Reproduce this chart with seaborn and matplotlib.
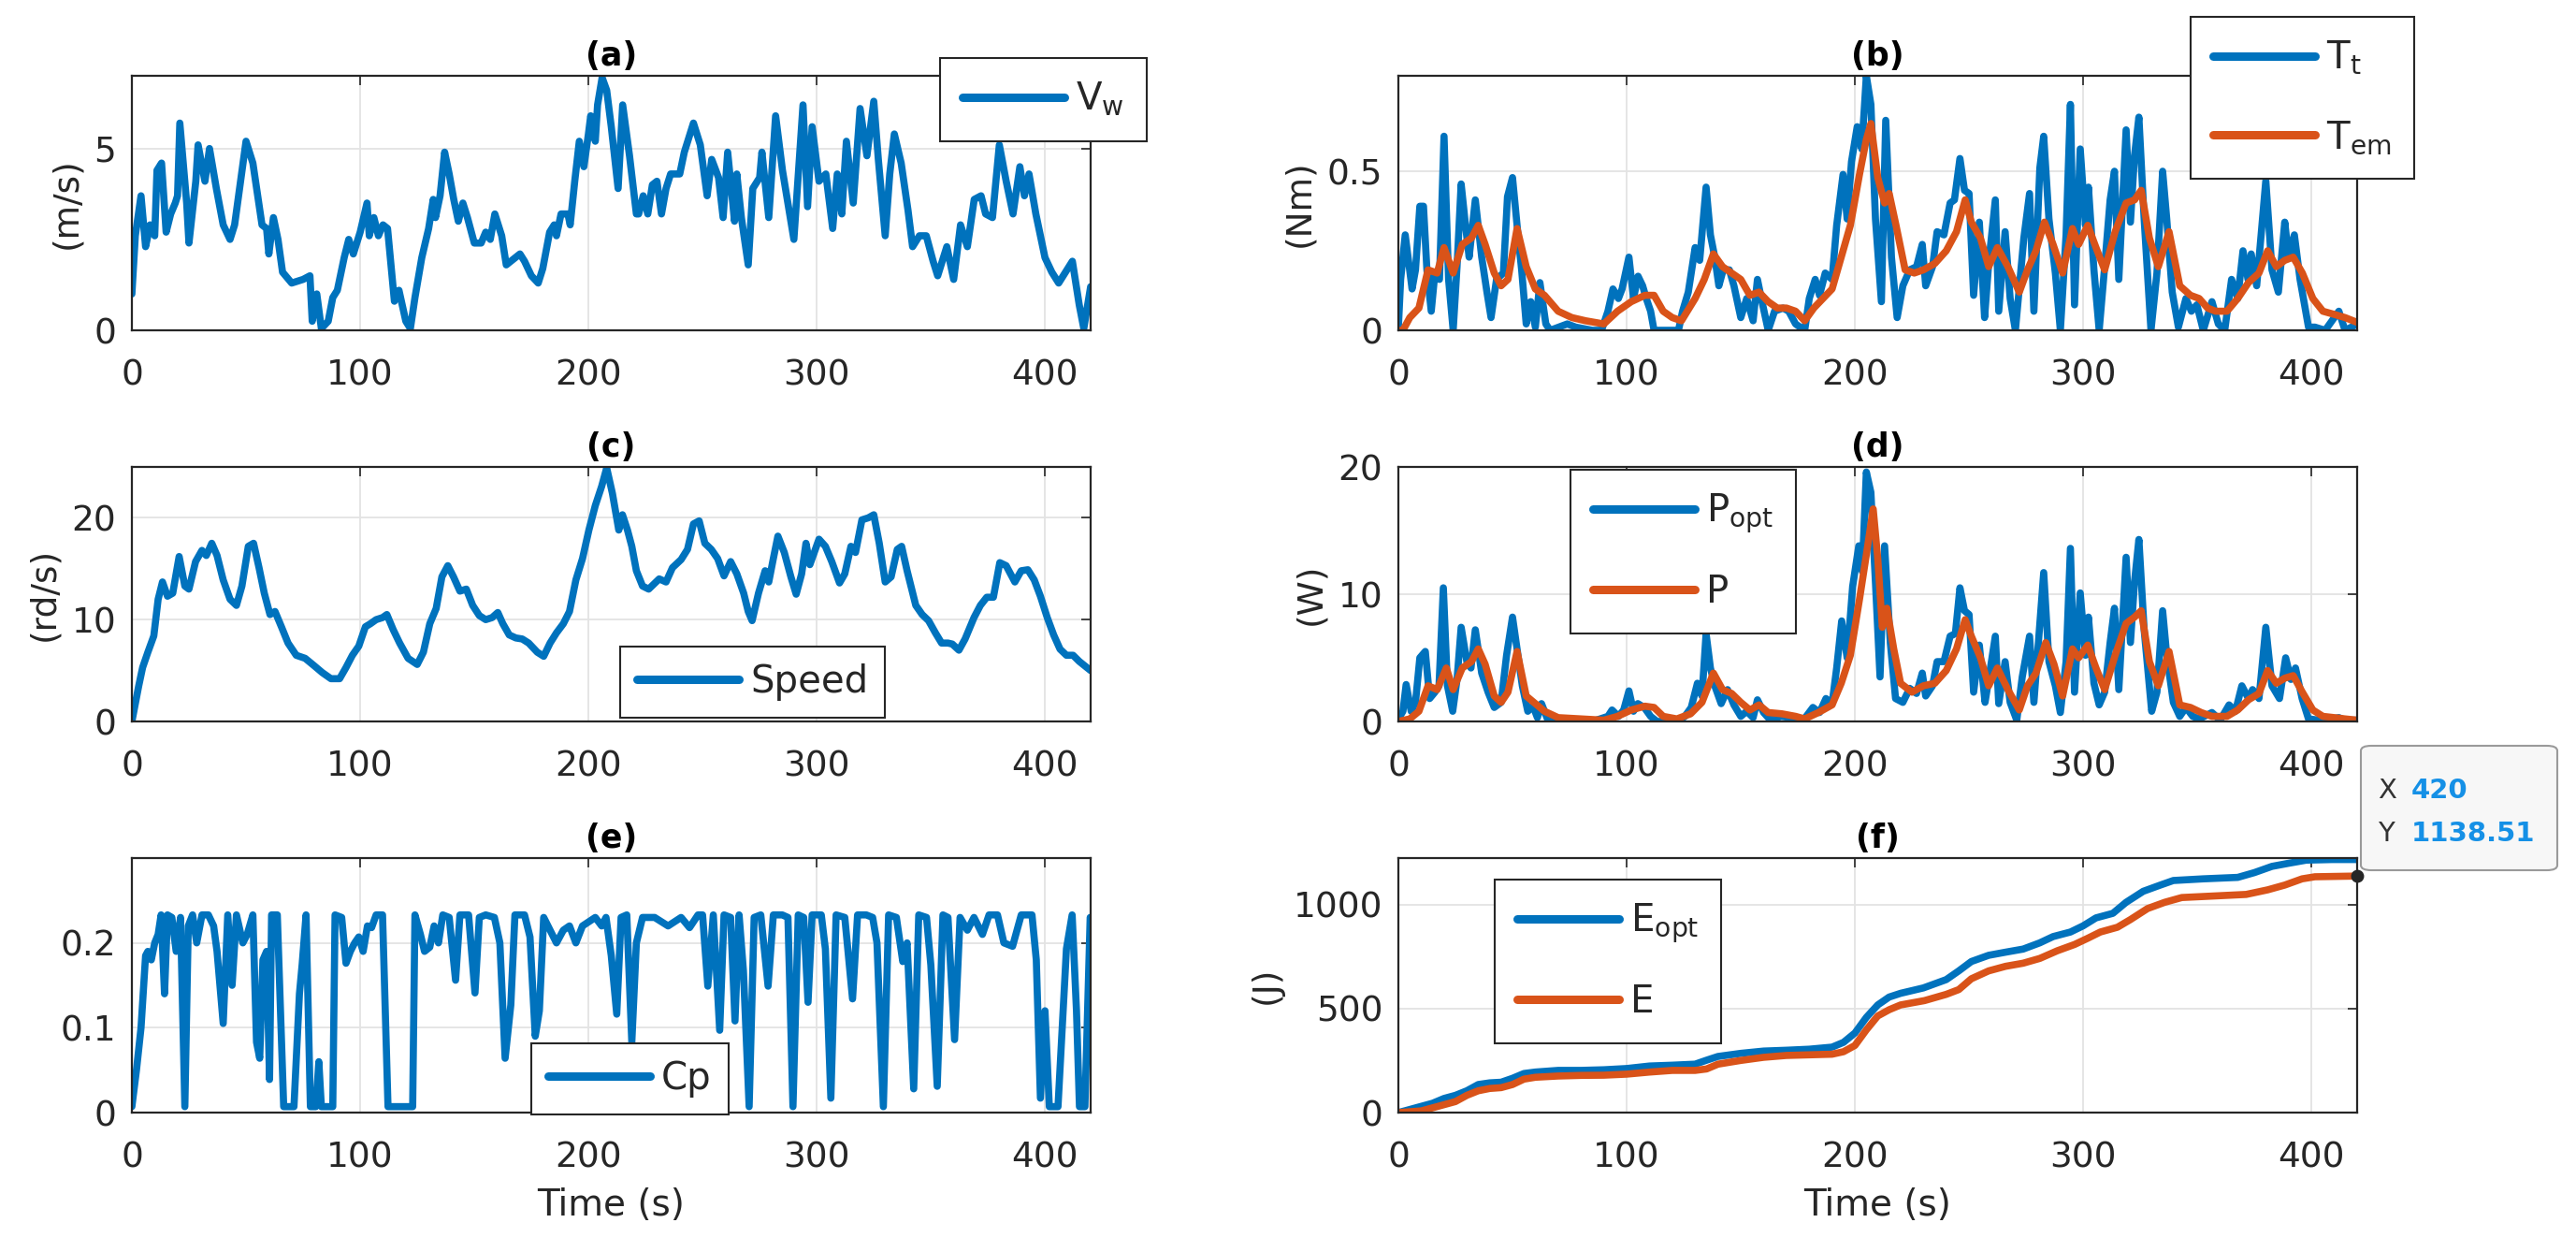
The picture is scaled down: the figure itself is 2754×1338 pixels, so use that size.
import matplotlib
matplotlib.use("Agg")
import matplotlib.pyplot as plt
from matplotlib.patches import FancyBboxPatch
from matplotlib.ticker import FuncFormatter
import seaborn as sns

# ---------------- data ----------------
t_vw = [0, 1.5, 4, 6, 8, 10, 11, 13, 15, 17, 19, 20, 21, 24, 25, 28, 29, 32, 34, 37, 40, 43, 45, 50, 53, 57, 59, 60,
        62, 64, 66, 70, 75, 78, 79, 81, 83, 86, 88, 90, 93, 95, 97, 100, 103, 104, 106, 108, 110, 112, 115, 117, 120,
        122, 124, 127, 130, 132, 133, 135, 137, 139, 141, 143, 145, 147, 150, 153, 155, 157, 159, 162, 164, 166, 168,
        170, 172, 175, 178, 180, 183, 185, 186, 188, 191, 192, 194, 196, 198, 200, 201, 203, 204, 206, 208, 210, 213,
        215, 218, 221, 222, 224, 226, 228, 230, 232, 234, 236, 240, 242, 246, 249, 252, 254, 257, 259, 261, 264, 265,
        267, 270, 272, 275, 276, 279, 282, 285, 290, 294, 296, 298, 301, 304, 307, 309, 311, 313, 316, 319, 322, 325,
        327, 330, 332, 334, 337, 340, 342, 345, 348, 351, 353, 357, 360, 363, 366, 369, 372, 374, 377, 380, 383, 386,
        389, 391, 393, 396, 400, 403, 406, 408, 412, 415, 417, 420]
vw = [1.0, 2.6, 3.7, 2.3, 2.9, 2.6, 4.4, 4.6, 2.7, 3.2, 3.5, 3.7, 5.7, 3.5, 2.4, 4.1, 5.1, 4.1, 5.0, 3.9, 2.9, 2.5, 2.9,
      5.2, 4.6, 2.9, 2.8, 2.1, 3.1, 2.5, 1.6, 1.3, 1.4, 1.5, 0.25, 1.0, 0.05, 0.25, 0.9, 1.1, 2.0, 2.5, 2.1, 2.7, 3.5,
      2.6, 3.1, 2.6, 2.9, 2.8, 0.8, 1.1, 0.25, 0.05, 0.9, 2.0, 2.8, 3.6, 3.1, 3.7, 4.9, 4.3, 3.6, 3.0, 3.5, 3.1, 2.4,
      2.4, 2.7, 2.5, 3.2, 2.6, 1.8, 1.9, 2.0, 2.1, 1.9, 1.5, 1.3, 1.7, 2.7, 2.9, 2.6, 3.2, 3.2, 2.9, 4.1, 5.2, 4.5,
      5.4, 5.9, 5.2, 6.2, 6.95, 6.6, 5.6, 3.9, 6.2, 4.8, 3.2, 3.2, 3.7, 3.2, 4.0, 4.1, 3.2, 3.9, 4.3, 4.3, 4.9, 5.7,
      5.1, 3.7, 4.7, 4.2, 3.1, 4.9, 3.0, 4.3, 3.1, 1.8, 3.9, 4.2, 4.9, 3.1, 5.9, 4.4, 2.5, 6.2, 3.4, 5.6, 4.1, 4.3,
      2.8, 4.3, 3.2, 5.2, 3.5, 6.1, 4.8, 6.3, 4.7, 2.6, 4.3, 5.4, 4.6, 3.3, 2.3, 2.6, 2.6, 1.9, 1.5, 2.3, 1.4, 2.9,
      2.3, 3.6, 3.7, 3.2, 3.1, 5.1, 4.1, 3.2, 4.5, 3.7, 4.3, 3.2, 2.0, 1.6, 1.3, 1.5, 1.9, 0.7, 0.05, 1.2]

t_tt = [0, 1, 3, 6, 7.5, 9.4, 11, 12.5, 14.4, 16, 18, 20, 22, 24, 25.7, 27.5, 29.4, 31, 33.7, 36.5, 38.8, 40.6, 43,
        46, 47.8, 50, 52.4, 54, 56, 58, 60, 62, 64.6, 66.5, 74, 77.7, 85, 89, 91.8, 94, 96.4, 98, 101, 103, 105, 107,
        108.6, 110.5, 112, 122.7, 124.5, 127, 130, 132, 134.8, 136.7, 138.6, 140.4, 142.3, 145, 147, 150, 152.6,
        155.4, 157.3, 159, 162, 164.8, 168.5, 171, 174, 178, 180, 182.6, 184.5, 187, 190, 192, 194.8, 196.6, 198.5,
        201, 203, 205, 207, 209, 211.6, 213.5, 216, 218.5, 221, 224, 227, 229.5, 231, 234, 236, 239, 241.7, 243.6,
        246, 248, 250, 252, 254.5, 256.8, 258.6, 261.5, 263, 265.8, 268, 270.3, 272.7, 274, 276.5, 278.4, 281, 282.7,
        285, 287.8, 290, 292.5, 294.4, 296.2, 298.7, 301, 302.3, 304.7, 307, 309.4, 311.8, 313.7, 315.6, 318.8,
        320.7, 322.5, 324.4, 326.7, 329.7, 332.3, 334.8, 336.6, 339, 341.7, 345, 347.4, 349.8, 352.6, 356.4, 359.2,
        362, 365, 367.7, 370, 372.2, 373.6, 376, 380, 382.7, 385.5, 388.3, 390, 392.5, 395, 398.7, 401.5, 406, 409,
        412, 414.7, 417.5, 420]
tt = [0.01, 0.16, 0.30, 0.13, 0.19, 0.39, 0.39, 0.19, 0.06, 0.18, 0.16, 0.61, 0.16, 0.0, 0.20, 0.46, 0.33, 0.23, 0.41,
      0.23, 0.12, 0.04, 0.16, 0.18, 0.42, 0.48, 0.30, 0.19, 0.02, 0.09, 0.01, 0.15, 0.02, 0.0, 0.02, 0.01, 0.0, 0.0,
      0.06, 0.13, 0.10, 0.13, 0.23, 0.10, 0.17, 0.14, 0.10, 0.06, 0.0, 0.0, 0.06, 0.12, 0.26, 0.22, 0.45, 0.30, 0.23,
      0.14, 0.19, 0.19, 0.14, 0.04, 0.10, 0.03, 0.16, 0.10, 0.0, 0.06, 0.07, 0.06, 0.02, 0.0, 0.10, 0.16, 0.11, 0.18,
      0.16, 0.33, 0.49, 0.35, 0.53, 0.64, 0.57, 0.80, 0.71, 0.35, 0.09, 0.66, 0.23, 0.04, 0.14, 0.19, 0.20, 0.27,
      0.14, 0.20, 0.31, 0.30, 0.40, 0.41, 0.54, 0.44, 0.43, 0.11, 0.34, 0.04, 0.21, 0.41, 0.06, 0.31, 0.10, 0.0,
      0.19, 0.29, 0.43, 0.06, 0.51, 0.61, 0.35, 0.18, 0.0, 0.30, 0.71, 0.08, 0.57, 0.33, 0.45, 0.19, 0.0, 0.20, 0.41,
      0.50, 0.16, 0.63, 0.34, 0.55, 0.67, 0.35, 0.0, 0.18, 0.50, 0.35, 0.12, 0.01, 0.10, 0.06, 0.08, 0.0, 0.09, 0.02,
      0.0, 0.16, 0.10, 0.25, 0.16, 0.24, 0.14, 0.47, 0.19, 0.12, 0.34, 0.23, 0.30, 0.16, 0.01, 0.01, 0.0, 0.03, 0.06,
      0.0, 0.01, 0.02]

t_tem = [0, 2, 5, 9, 13, 17, 20, 24, 28, 32, 35, 38, 42, 45, 48, 52, 56, 60, 64, 70, 76, 82, 90, 96, 102, 108, 112,
         116, 120, 124, 130, 134, 138, 142, 146, 150, 154, 158, 162, 166, 170, 174, 178, 182, 186, 190, 194, 198, 202,
         205, 207, 210, 213, 215, 218, 222, 226, 230, 235, 240, 244.5, 248.3, 251, 255, 258.6, 262.4, 267, 272, 275.6,
         279.3, 283, 286.8, 291, 295.3, 298, 302, 305.6, 309.4, 314, 318.8, 322.5, 325.4, 329, 332.9, 337.6, 342.3,
         347, 350.8, 354.5, 358, 363, 367.7, 372.4, 377, 380.8, 384.6, 388.3, 392, 396, 400.6, 405, 410, 414.7, 420]
tem = [0, 0, 0.04, 0.07, 0.19, 0.18, 0.26, 0.18, 0.27, 0.29, 0.33, 0.27, 0.18, 0.14, 0.16, 0.32, 0.20, 0.13, 0.11,
       0.06, 0.04, 0.03, 0.02, 0.06, 0.09, 0.11, 0.11, 0.06, 0.04, 0.03, 0.10, 0.16, 0.24, 0.20, 0.18, 0.16, 0.11,
       0.12, 0.09, 0.07, 0.07, 0.06, 0.03, 0.07, 0.10, 0.13, 0.23, 0.33, 0.49, 0.60, 0.65, 0.48, 0.40, 0.43, 0.33,
       0.19, 0.18, 0.19, 0.21, 0.25, 0.31, 0.41, 0.34, 0.29, 0.20, 0.26, 0.20, 0.12, 0.19, 0.25, 0.34, 0.27, 0.18,
       0.32, 0.27, 0.33, 0.26, 0.19, 0.31, 0.40, 0.41, 0.44, 0.29, 0.20, 0.31, 0.14, 0.11, 0.10, 0.07, 0.06, 0.06,
       0.10, 0.15, 0.18, 0.25, 0.20, 0.22, 0.23, 0.18, 0.10, 0.06, 0.05, 0.04, 0.025]

t_speed = [0, 3, 4.7, 7, 9.6, 11.5, 13.4, 15.6, 17.9, 20.7, 23.2, 25, 27.9, 30.7, 32.6, 35, 37.3, 40, 43, 45.8, 48.2,
           51, 53.3, 55.7, 58, 60.5, 62.7, 65.5, 68.4, 72, 75.9, 79.7, 83.4, 87.2, 91, 93.8, 96.6, 99.4, 102.3, 104.5,
           107, 109.8, 111.7, 114.5, 117.3, 121, 125, 127.7, 130.5, 133.3, 135.8, 138.4, 140.9, 143.7, 146.5, 149.3,
           152.2, 155, 157.8, 160.3, 162.5, 165.3, 168.2, 171, 173.8, 177.6, 180.4, 183.2, 186, 189, 191.7, 194.5,
           197.4, 200.2, 203, 205.8, 208, 210.5, 213.3, 214.9, 217.1, 219, 221, 223.7, 226.4, 231, 234, 236.8, 240.6,
           243.4, 246, 248.5, 251, 253.8, 256.6, 259.4, 262.3, 265, 268, 270, 271.7, 274.5, 277.4, 279, 281, 283,
           285.8, 288.7, 291, 293.4, 295.3, 297, 301, 303.8, 306.6, 310, 312.3, 315, 317, 319.8, 322.6, 325, 327.4,
           330, 332.6, 335.3, 337.2, 339.6, 343.4, 346.2, 349, 352, 354.7, 357.5, 359.4, 362.3, 365, 368.9, 371.7,
           374.5, 377.4, 380.2, 383, 386.8, 389.6, 392.5, 395.3, 398, 401, 403.8, 406.6, 409.4, 412.3, 415, 420]
speed = [0, 3.5, 5.3, 6.8, 8.4, 12.0, 13.7, 12.3, 12.6, 16.2, 13.3, 13.0, 15.7, 16.8, 16.3, 17.5, 16.3, 13.9, 12.0,
         11.4, 13.3, 17.2, 17.5, 15.1, 12.6, 10.5, 10.8, 9.3, 7.7, 6.5, 6.2, 5.5, 4.8, 4.2, 4.2, 5.3, 6.5, 7.4, 9.3,
         9.6, 10.0, 10.2, 10.5, 9.0, 7.7, 6.2, 5.6, 6.8, 9.6, 11.1, 14.2, 15.3, 14.2, 12.8, 13.0, 11.4, 10.4, 10.0,
         10.2, 10.7, 9.6, 8.5, 8.2, 8.1, 7.7, 6.8, 6.4, 7.7, 8.7, 9.6, 10.8, 13.9, 16.0, 18.8, 21.2, 23.1, 24.9, 22.4,
         18.8, 20.3, 18.8, 17.2, 14.8, 13.3, 13.0, 14.0, 13.7, 15.1, 15.9, 16.9, 19.4, 19.7, 17.5, 16.9, 16.0, 14.3,
         15.7, 14.5, 12.6, 10.8, 9.9, 12.6, 14.8, 13.7, 16.0, 18.2, 16.6, 14.2, 12.5, 14.5, 17.5, 15.4, 17.9, 17.2,
         15.7, 13.6, 14.5, 17.2, 16.6, 19.8, 20.0, 20.3, 17.5, 13.7, 14.2, 16.9, 17.2, 14.8, 11.4, 10.5, 9.9, 8.7,
         7.7, 7.7, 7.6, 7.0, 8.1, 10.2, 11.4, 12.2, 12.2, 15.6, 15.3, 13.7, 14.8, 14.9, 13.9, 12.3, 10.2, 8.5, 7.1,
         6.5, 6.5, 5.9, 5.0]

t_popt = [0, 2, 3.4, 5.6, 7.5, 9.4, 11.8, 13.7, 16, 17.8, 19.7, 21.5, 23.8, 25.7, 27.5, 30, 31.8, 33.7, 36.5, 39.3,
          42, 45, 47.4, 50, 52.4, 54.3, 56.7, 59, 60.9, 62.7, 65.5, 68.4, 85, 91.8, 93.6, 96.4, 98.7, 101, 103, 104.9,
          107.7, 110.5, 113.3, 122.7, 125.5, 128.3, 131, 133, 134.8, 136.7, 138.6, 141.4, 144.2, 147, 150, 152.6,
          155.4, 157.3, 160, 163, 167.6, 172.3, 177, 181.6, 184.5, 187.3, 190, 192, 194.2, 196.6, 199, 201.7, 203.2,
          205, 207, 209, 211, 213, 215.5, 217.8, 221, 224, 227, 229.5, 231, 234, 236, 239, 241.7, 244, 246, 248, 250,
          252, 254.5, 257, 258.6, 261.5, 263, 265.8, 268, 270.9, 273.3, 276.5, 278.4, 281, 282.7, 285, 287.8, 290,
          292.5, 294.4, 296.2, 298.7, 301, 302.3, 304.7, 307, 309.4, 311.8, 313.7, 315.6, 318.8, 320.7, 322.5, 324.4,
          326.7, 330, 332.3, 334.8, 336.6, 339.5, 342.3, 345, 348, 350.8, 356.4, 360, 363.9, 366.7, 369.5, 372.4,
          374.2, 377, 380, 382.7, 386, 388.7, 391, 393, 395.9, 398.7, 403.4, 409, 412, 414.7, 420]
popt = [0.2, 0.8, 2.9, 0.8, 1.5, 5.0, 5.5, 1.8, 2.3, 2.8, 10.5, 2.8, 0.8, 3.3, 7.4, 4.7, 4.2, 7.2, 3.8, 2.3, 1.1, 1.5,
        5.2, 8.2, 5.2, 2.8, 0.8, 1.2, 0.3, 1.4, 0.1, 0, 0, 0.4, 0.9, 0.4, 0.9, 2.4, 0.8, 1.4, 1.1, 0.4, 0, 0, 0.4,
        1.1, 3.0, 2.0, 6.9, 4.2, 2.8, 1.4, 2.5, 1.3, 0.4, 0.8, 0.3, 1.7, 0.7, 0.1, 0.4, 0.3, 0, 1.1, 0.7, 1.8, 1.4,
        4.2, 7.9, 5.0, 10.6, 13.8, 11.8, 19.6, 18.0, 10.9, 3.5, 13.8, 6.2, 1.8, 1.5, 2.6, 2.2, 3.8, 2.0, 2.8, 4.7,
        4.7, 6.7, 6.9, 10.5, 8.7, 8.4, 2.3, 6.0, 1.5, 3.3, 6.7, 1.4, 4.7, 1.5, 0.1, 3.5, 6.7, 1.5, 7.7, 11.7, 4.7,
        2.8, 0.7, 4.7, 13.6, 2.3, 10.1, 5.2, 8.2, 3.0, 1.3, 2.3, 6.2, 8.9, 2.5, 12.9, 6.2, 11.0, 14.3, 7.2, 0.8,
        2.3, 8.7, 5.2, 1.5, 0.4, 1.1, 0.4, 0.2, 0.7, 0.1, 1.3, 0.8, 2.8, 1.8, 2.5, 1.8, 7.4, 2.8, 1.8, 5.0, 3.3,
        4.2, 1.8, 0.2, 0.1, 0.2, 0.3, 0.1, 0.1]

t_p = [0, 5, 9, 13, 17, 21, 24, 28, 32, 35, 38, 42, 45, 48, 52, 56, 60, 64, 70, 80, 90, 96, 102, 108, 112, 116, 122,
       128, 133, 138, 142, 146, 150, 154, 158, 162, 168, 174, 178, 184, 190, 194, 198, 202, 205, 208, 210, 212, 214,
       217, 220, 225, 230, 235, 240, 244.5, 248.3, 251, 255, 258.6, 262.4, 267, 272, 275.6, 279.3, 283.6, 287.2, 291,
       295.3, 298, 302, 305.6, 309.4, 314, 318.8, 322.5, 325.4, 329, 332.9, 337.6, 342.3, 347, 351.7, 356.4, 363,
       367.7, 372.4, 377, 380.8, 384.6, 388.3, 392, 396, 400.6, 405, 410, 414.7, 420]
p = [0, 0.2, 0.8, 2.8, 2.5, 4.2, 2.5, 4.2, 4.7, 5.7, 4.5, 2.0, 1.5, 2.3, 5.5, 2.0, 1.4, 0.8, 0.3, 0.2, 0.1, 0.4, 0.9,
     1.2, 1.1, 0.4, 0.2, 0.6, 1.5, 3.8, 2.5, 2.2, 1.5, 0.9, 1.3, 0.7, 0.6, 0.4, 0.2, 0.7, 1.3, 3.0, 5.2, 9.6, 13.1,
     16.7, 12.8, 7.4, 8.9, 5.7, 3.0, 2.3, 2.8, 3.0, 4.0, 5.7, 8.0, 6.7, 5.0, 2.8, 4.2, 2.5, 0.9, 2.8, 3.8, 6.2, 4.5,
     2.0, 5.7, 5.0, 6.0, 4.2, 2.5, 5.2, 7.7, 8.2, 8.7, 4.7, 2.8, 5.5, 1.3, 1.1, 0.7, 0.4, 0.4, 0.9, 1.7, 2.2, 4.0,
     3.0, 3.4, 3.6, 2.3, 0.9, 0.4, 0.3, 0.2, 0.1]

t_cp = [0, 2, 4, 6, 7, 8.5, 10, 11.5, 12.8, 14.3, 15.6, 17.5, 19.4, 21.3, 23.2, 24.7, 26.6, 28.4, 30.7, 33.5, 35.8,
        37.3, 40, 42, 43.9, 45.8, 48.6, 50.5, 53, 54.6, 56, 57.4, 59, 60.3, 61.2, 63.7, 66.5, 71, 73.4, 74.6, 76.3,
        78.2, 80.6, 81.9, 83, 88, 89, 91.9, 93.8, 95.7, 97.6, 99.4, 101.3, 103.2, 105, 107, 109.8, 112.2, 118.3, 123,
        124, 126.4, 128.2, 130.5, 132.4, 134.3, 136.2, 139, 141.8, 143.7, 147.5, 150.3, 152.2, 155, 158.8, 161.2,
        163.5, 166, 167.8, 172, 174.4, 176.7, 178.5, 180.4, 183.2, 186, 189, 191.7, 194.5, 197.4, 200.2, 203, 205.8,
        207.7, 210, 212.4, 214.3, 216.8, 219, 221, 223.7, 229, 234.9, 240.6, 244.3, 248, 250, 252.3, 254.7, 257.5,
        259.4, 262.3, 264.2, 266, 267.9, 270.4, 272.6, 275.5, 278.7, 281, 284.9, 287.4, 289.6, 291.9, 294.3, 296.2,
        298, 302, 303.8, 306.2, 308.5, 312.3, 315.7, 317.9, 321.7, 324.5, 326.4, 329.2, 331.5, 334.9, 337.7, 339.6,
        342.5, 344.7, 348.1, 350, 352.8, 355.3, 357.5, 360.4, 362.8, 366, 368.9, 372.6, 375.5, 379.2, 382, 385.8,
        389.6, 394.3, 396.2, 398, 400, 401.9, 405.7, 409.4, 411.9, 413.8, 415.1, 417.5, 419.8]
cp = [0.007, 0.05, 0.10, 0.185, 0.19, 0.18, 0.20, 0.21, 0.233, 0.14, 0.233, 0.23, 0.19, 0.23, 0.007, 0.22, 0.233,
      0.20, 0.233, 0.233, 0.22, 0.19, 0.105, 0.233, 0.15, 0.233, 0.20, 0.21, 0.233, 0.083, 0.064, 0.18, 0.19, 0.039,
      0.233, 0.233, 0.007, 0.007, 0.14, 0.175, 0.233, 0.007, 0.007, 0.06, 0.007, 0.007, 0.233, 0.23, 0.176, 0.19,
      0.20, 0.207, 0.19, 0.22, 0.218, 0.233, 0.233, 0.007, 0.007, 0.007, 0.233, 0.21, 0.19, 0.195, 0.22, 0.20, 0.233,
      0.23, 0.156, 0.233, 0.233, 0.141, 0.23, 0.233, 0.23, 0.20, 0.064, 0.127, 0.233, 0.233, 0.207, 0.09, 0.12, 0.23,
      0.215, 0.20, 0.215, 0.22, 0.20, 0.22, 0.225, 0.23, 0.22, 0.23, 0.185, 0.116, 0.23, 0.233, 0.083, 0.20, 0.23,
      0.23, 0.22, 0.23, 0.218, 0.233, 0.233, 0.149, 0.233, 0.097, 0.233, 0.23, 0.108, 0.233, 0.167, 0.007, 0.23,
      0.233, 0.149, 0.233, 0.233, 0.23, 0.007, 0.233, 0.23, 0.13, 0.233, 0.233, 0.193, 0.017, 0.233, 0.23, 0.134,
      0.233, 0.233, 0.23, 0.20, 0.007, 0.233, 0.23, 0.178, 0.20, 0.028, 0.233, 0.23, 0.174, 0.031, 0.233, 0.23,
      0.086, 0.23, 0.215, 0.23, 0.21, 0.233, 0.233, 0.20, 0.196, 0.233, 0.233, 0.18, 0.017, 0.12, 0.007, 0.007,
      0.193, 0.233, 0.12, 0.007, 0.007, 0.23]

t_eopt = [0, 5, 10, 15, 20, 25, 30, 35, 40, 45, 50, 55, 60, 70, 80, 90, 100, 110, 120, 130, 135, 140, 150, 160, 170,
          180, 190, 195, 200, 205, 210, 215, 220, 230, 240, 245.5, 251, 258.6, 266, 273.7, 281, 286.8, 294.4, 300,
          305.6, 313, 318.8, 326.3, 333.8, 339.5, 352.6, 367.7, 375, 382.7, 390, 397.7, 409, 420]
eopt = [0, 15, 30, 45, 68, 83, 105, 135, 143, 146, 165, 188, 195, 203, 203, 206, 212, 224, 228, 233, 252, 270, 285,
        296, 300, 305, 315, 338, 383, 458, 518, 556, 574, 600, 640, 682, 727, 757, 772, 787, 817, 847, 869, 899, 937,
        959, 1012, 1065, 1095, 1117, 1125, 1132, 1155, 1185, 1200, 1215, 1218, 1218]

t_e = [0, 10, 15, 20, 25, 30, 35, 40, 45, 50, 55, 60, 70, 80, 90, 100, 110, 120, 130, 135, 140, 150, 160, 170, 180,
       190, 195, 200, 205, 210, 215, 220, 230.5, 240, 245.5, 251, 258.6, 266, 273.7, 281, 288.7, 296.2, 302, 307.5,
       315, 320.7, 328.2, 335.7, 343.2, 356.4, 371.4, 380.8, 388.3, 395.9, 401.5, 420]
e = [0, 8, 23, 38, 53, 83, 105, 116, 120, 135, 161, 170, 176, 179, 180, 185, 195, 203, 203, 210, 233, 251, 266, 275,
     278, 281, 293, 323, 398, 465, 495, 518, 539, 569, 592, 644, 682, 704, 719, 742, 779, 809, 839, 869, 892, 929,
     982, 1012, 1035, 1042, 1050, 1072, 1095, 1125, 1135, 1138.51]

x_ticks = [0, 100, 200, 300, 400]

# ---------------- style ----------------
sns.set_theme(style="white")
plt.rcParams["font.family"] = ["DejaVu Sans"]
plt.rcParams["mathtext.default"] = "regular"

BLUE = "#0072BD"
ORANGE = "#D95319"
DARK = "#262626"
W, H = 2754, 1338

fig = plt.figure(figsize=(W / 100, H / 100), dpi=100)
fig.patch.set_facecolor("white")

colx = [141 / W, 1495 / W]
rows_top = [81, 499, 917]
aw, ah = 1025 / W, 272 / H
fmt = FuncFormatter(lambda v, pos: f"{v:g}")


def make_ax(col, row):
    top = rows_top[row]
    return fig.add_axes([colx[col], 1 - (top + 272) / H, aw, ah])


def style(ax, ylim, yticks, title, ylabel=None, xlabel=None):
    ax.set_xlim(0, 420)
    ax.set_ylim(*ylim)
    ax.set_xticks(x_ticks)
    ax.set_yticks(yticks)
    ax.yaxis.set_major_formatter(fmt)
    ax.xaxis.set_major_formatter(fmt)
    ax.grid(True, color="#E3E3E3", linewidth=1.3, zorder=0)
    ax.set_axisbelow(True)
    for s in ax.spines.values():
        s.set_color(DARK)
        s.set_linewidth(1.6)
        s.set_visible(True)
    ax.tick_params(axis="both", direction="in", length=7, width=1.2, colors=DARK,
                   labelsize=27, top=True, right=True, labelcolor=DARK)
    ax.tick_params(axis="x", pad=22)
    ax.tick_params(axis="y", pad=12)
    ax.set_title(title, fontsize=25, fontweight="bold", color="black", pad=8)
    if ylabel:
        ax.set_ylabel(ylabel, fontsize=27, color=DARK, labelpad=8)
    else:
        ax.set_ylabel("")
    if xlabel:
        ax.set_xlabel(xlabel, fontsize=28, color=DARK, labelpad=10)
    else:
        ax.set_xlabel("")


def put_legend(ax, x, y, **kw):
    opts = dict(fontsize=29, frameon=True, fancybox=False, framealpha=1, edgecolor=DARK,
                handlelength=2.7, handletextpad=0.3, borderpad=0.45, borderaxespad=0)
    opts.update(kw)
    leg = ax.legend(loc="upper left", bbox_to_anchor=(x / W, 1 - y / H), bbox_transform=fig.transFigure, **opts)
    leg.get_frame().set_linewidth(1.5)
    for ln in leg.get_lines():
        ln.set_linewidth(6.5)
    return leg


LW = 5.5

# (a)
ax_a = make_ax(0, 0)
sns.lineplot(x=t_vw, y=vw, ax=ax_a, color=BLUE, linewidth=LW, label="$V_w$")
style(ax_a, (0, 7), [0, 5], "(a)", ylabel="(m/s)")
put_legend(ax_a, 1005, 62, borderpad=0.6)

# (b)
ax_b = make_ax(1, 0)
sns.lineplot(x=t_tt, y=tt, ax=ax_b, color=BLUE, linewidth=LW, label="$T_t$")
sns.lineplot(x=t_tem, y=tem, ax=ax_b, color=ORANGE, linewidth=LW, label="$T_{em}$")
style(ax_b, (0, 0.8), [0, 0.5], "(b)", ylabel="(Nm)")
put_legend(ax_b, 2342, 18, labelspacing=1.1, borderpad=0.6)

# (c)
ax_c = make_ax(0, 1)
sns.lineplot(x=t_speed, y=speed, ax=ax_c, color=BLUE, linewidth=LW, label="Speed")
style(ax_c, (0, 25), [0, 10, 20], "(c)", ylabel="(rd/s)")
put_legend(ax_c, 663, 691)

# (d)
ax_d = make_ax(1, 1)
sns.lineplot(x=t_popt, y=popt, ax=ax_d, color=BLUE, linewidth=LW, label="$P_{opt}$")
sns.lineplot(x=t_p, y=p, ax=ax_d, color=ORANGE, linewidth=LW, label="P")
style(ax_d, (0, 20), [0, 10, 20], "(d)", ylabel="(W)")
put_legend(ax_d, 1679, 502, labelspacing=1.0, borderpad=0.6)

# (e)
ax_e = make_ax(0, 2)
sns.lineplot(x=t_cp, y=cp, ax=ax_e, color=BLUE, linewidth=LW, label="Cp")
style(ax_e, (0, 0.3), [0, 0.1, 0.2], "(e)", xlabel="Time (s)")
put_legend(ax_e, 568, 1115)

# (f)
ax_f = make_ax(1, 2)
sns.lineplot(x=t_eopt, y=eopt, ax=ax_f, color=BLUE, linewidth=LW, label="$E_{opt}$")
sns.lineplot(x=t_e, y=e, ax=ax_f, color=ORANGE, linewidth=LW, label="E")
style(ax_f, (0, 1225), [0, 500, 1000], "(f)", ylabel="(J)", xlabel="Time (s)")
put_legend(ax_f, 1598, 940, labelspacing=1.0, borderpad=0.6)

# data tip on the last point of E
ax_f.plot([t_e[-1]], [e[-1]], "o", color=DARK, markersize=9, clip_on=False, zorder=6)
box = FancyBboxPatch((2524 / W, 1 - 930 / H), 210 / W, 133 / H, transform=fig.transFigure,
                     boxstyle="round,pad=0,rounding_size=0.004", facecolor="#F7F7F7",
                     edgecolor="#9A9A9A", linewidth=1.5, zorder=10)
fig.patches.append(box)
TIP = "#1590E6"
fig.text(2542 / W, 1 - 845 / H, "X", fontsize=21, color="#333333", va="center", ha="left", zorder=11)
fig.text(2578 / W, 1 - 845 / H, f"{t_e[-1]:g}", fontsize=21, color=TIP, fontweight="bold",
         va="center", ha="left", zorder=11)
fig.text(2542 / W, 1 - 891 / H, "Y", fontsize=21, color="#333333", va="center", ha="left", zorder=11)
fig.text(2578 / W, 1 - 891 / H, f"{e[-1]:.2f}", fontsize=21, color=TIP, fontweight="bold",
         va="center", ha="left", zorder=11)

fig.savefig("out.png", dpi=100, facecolor="white")
